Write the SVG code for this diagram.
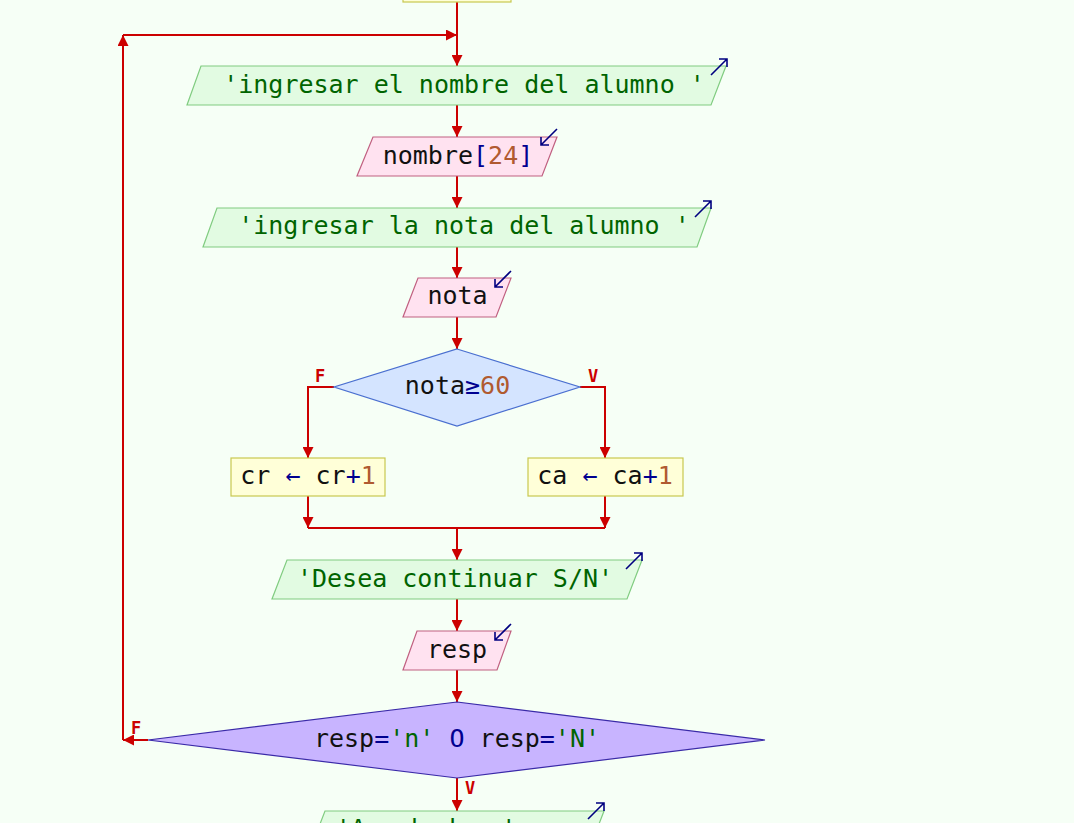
<svg xmlns="http://www.w3.org/2000/svg" width="1074" height="823" viewBox="0 0 1074 823">
<defs>
<marker id="ah" viewBox="0 0 10 10" refX="10" refY="5" markerWidth="11" markerHeight="11" markerUnits="userSpaceOnUse" orient="auto">
<path d="M0,0 L10,5 L0,10 Z" fill="#cc0000"/>
</marker>
<style>
.bg{fill:#f6fff6}
.c{stroke:#cc0000;stroke-width:2;fill:none}
.ca{stroke:#cc0000;stroke-width:2;fill:none;marker-end:url(#ah)}
.out{fill:#e2fbe2;stroke:#80cc80;stroke-width:1.2}
.inp{fill:#ffe2f0;stroke:#c06080;stroke-width:1.2}
.asg{fill:#ffffd8;stroke:#c8c850;stroke-width:1.2}
.d1{fill:#d4e4ff;stroke:#4a6fd0;stroke-width:1.2}
.d2{fill:#c8b4ff;stroke:#3a2aa8;stroke-width:1.2}
.t{font-family:"DejaVu Sans Mono","Liberation Mono",monospace;font-size:25px;fill:#111111;text-anchor:middle}
.g{fill:#006400}
.op{fill:#000090}
.n{fill:#b05a30}
.lb{font-family:"DejaVu Sans Mono",monospace;font-size:17px;font-weight:bold;fill:#cc0000;text-anchor:middle}
.ic{stroke:#000080;stroke-width:1.6;fill:none}
</style>
</defs>
<rect class="bg" x="0" y="0" width="1074" height="823"/>

<g id="connectors">
<line class="c" x1="457" y1="2" x2="457" y2="35"/>
<line class="ca" x1="457" y1="35" x2="457" y2="66"/>
<line class="ca" x1="148" y1="740" x2="123" y2="740"/>
<line class="ca" x1="123" y1="740" x2="123" y2="35"/>
<line class="ca" x1="123" y1="35" x2="457" y2="35"/>
<line class="ca" x1="457" y1="105" x2="457" y2="137"/>
<line class="ca" x1="457" y1="176" x2="457" y2="208"/>
<line class="ca" x1="457" y1="247" x2="457" y2="278"/>
<line class="ca" x1="457" y1="317" x2="457" y2="349"/>
<polyline class="ca" points="334,387 308,387 308,458"/>
<polyline class="ca" points="580,387 605,387 605,458"/>
<line class="ca" x1="308" y1="496" x2="308" y2="528"/>
<line class="ca" x1="605" y1="496" x2="605" y2="528"/>
<line class="c" x1="308" y1="528" x2="605" y2="528"/>
<line class="ca" x1="457" y1="528" x2="457" y2="560"/>
<line class="ca" x1="457" y1="599" x2="457" y2="631"/>
<line class="ca" x1="457" y1="670" x2="457" y2="702"/>
<line class="ca" x1="457" y1="778" x2="457" y2="811"/>
<text class="lb" x="320" y="382">F</text>
<text class="lb" x="593" y="382">V</text>
<text class="lb" x="136" y="734">F</text>
<text class="lb" x="470" y="794">V</text>
</g>

<g id="top">
<rect class="asg" x="403" y="-20" width="108" height="22"/>
</g>

<g id="out1">
<polygon class="out" points="201,66 726,66 711,105 187,105"/>
<text class="t g" x="464" y="93">'ingresar el nombre del alumno '</text>
<path class="ic" d="M711,75 L727,59 M719,59 L727,59 L727,67"/>
</g>

<g id="in1">
<polygon class="inp" points="373,137 557,137 542,176 357,176"/>
<text class="t" x="458" y="164">nombre<tspan class="op">[</tspan><tspan class="n">24</tspan><tspan class="op">]</tspan></text>
<path class="ic" d="M557,129 L541,145 M541,137 L541,145 L549,145"/>
</g>

<g id="out2">
<polygon class="out" points="217,208 711,208 697,247 203,247"/>
<text class="t g" x="464" y="234">'ingresar la nota del alumno '</text>
<path class="ic" d="M695,217 L711,201 M703,201 L711,201 L711,209"/>
</g>

<g id="in2">
<polygon class="inp" points="418,278 511,278 496,317 403,317"/>
<text class="t" x="457.5" y="304">nota</text>
<path class="ic" d="M511,271 L495,287 M495,279 L495,287 L503,287"/>
</g>

<g id="dec1">
<polygon class="d1" points="457,349 580,387 457,426 334,387"/>
<text class="t" x="457.5" y="394">nota<tspan class="op">≥</tspan><tspan class="n">60</tspan></text>
</g>

<g id="asgF">
<rect class="asg" x="231" y="458" width="154" height="38"/>
<text class="t" x="308" y="484">cr <tspan class="op">←</tspan> cr<tspan class="op">+</tspan><tspan class="n">1</tspan></text>
</g>

<g id="asgV">
<rect class="asg" x="528" y="458" width="155" height="38"/>
<text class="t" x="605" y="484">ca <tspan class="op">←</tspan> ca<tspan class="op">+</tspan><tspan class="n">1</tspan></text>
</g>

<g id="out3">
<polygon class="out" points="287,560 642,560 627,599 272,599"/>
<text class="t g" x="455" y="587">'Desea continuar S/N'</text>
<path class="ic" d="M626,569 L642,553 M634,553 L642,553 L642,561"/>
</g>

<g id="in3">
<polygon class="inp" points="417,631 511,631 497,670 403,670"/>
<text class="t" x="457" y="658">resp</text>
<path class="ic" d="M511,624 L495,640 M495,632 L495,640 L503,640"/>
</g>

<g id="dec2">
<polygon class="d2" points="457,702 765,740 457,778 148,740"/>
<text class="t" x="457" y="747">resp<tspan class="op">=</tspan><tspan class="g">'n'</tspan> <tspan class="op">O</tspan> resp<tspan class="op">=</tspan><tspan class="g">'N'</tspan></text>
</g>

<g id="out4">
<polygon class="out" points="325,811 604,811 589,850 310,850"/>
<text class="t g" x="426" y="837">'Aprobados '</text>
<path class="ic" d="M588,819 L604,803 M596,803 L604,803 L604,811"/>
</g>
</svg>
